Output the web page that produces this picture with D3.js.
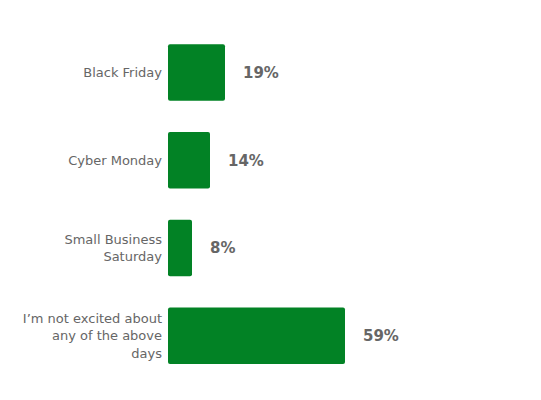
<!DOCTYPE html>
<html>
<head>
<meta charset="utf-8">
<script src="https://cdn.jsdelivr.net/npm/d3@7"></script>
<style>
  body { margin: 0; background: #fff; }
  svg text { font-family: "DejaVu Sans", Verdana, sans-serif; }
</style>
</head>
<body>
<div id="chart"></div>
<script>
// categories and values
const categories = [
  "Black Friday",
  "Cyber Monday",
  "Small Business Saturday",
  "I\u2019m not excited about any of the above days"
];
const values = [19, 14, 8, 59];

const width = 541, height = 400;
const barColor = "#028225";
const textColor = "#666666";

const svg = d3.select("#chart").append("svg")
  .attr("width", width)
  .attr("height", height);

const x = d3.scaleLinear()
  .domain([0, 100])
  .range([168, 468]);

const y = d3.scaleBand()
  .domain(categories)
  .range([28.7, 379.5])
  .paddingInner(0.356)
  .paddingOuter(0.178);

const data = categories.map((c, i) => ({ cat: c, val: values[i] }));

// bars
svg.append("g").selectAll("rect")
  .data(data)
  .enter().append("rect")
    .attr("x", x(0))
    .attr("y", d => y(d.cat))
    .attr("width", d => x(d.val) - x(0))
    .attr("height", y.bandwidth())
    .attr("rx", 2)
    .attr("fill", barColor);

// value labels
svg.append("g").selectAll("text")
  .data(data)
  .enter().append("text")
    .attr("x", d => x(d.val) + 18)
    .attr("y", d => y(d.cat) + y.bandwidth() / 2)
    .attr("dy", "0.36em")
    .attr("fill", textColor)
    .style("font-size", "15px")
    .style("font-weight", "bold")
    .text(d => d.val + "%");

// category labels, wrapped
const lineHeight = 17.5;
const maxWidth = 142;

const labels = svg.append("g").selectAll("text")
  .data(data)
  .enter().append("text")
    .attr("text-anchor", "end")
    .attr("fill", textColor)
    .style("font-size", "13px");

labels.each(function (d) {
  const t = d3.select(this);
  const words = d.cat.split(" ");
  let lines = [], line = [];
  const probe = t.append("tspan");
  words.forEach(w => {
    line.push(w);
    probe.text(line.join(" "));
    if (probe.node().getComputedTextLength() > maxWidth && line.length > 1) {
      line.pop();
      lines.push(line.join(" "));
      line = [w];
    }
  });
  lines.push(line.join(" "));
  probe.remove();

  const cy = y(d.cat) + y.bandwidth() / 2;
  const top = cy - (lines.length - 1) * lineHeight / 2;
  lines.forEach((l, i) => {
    t.append("tspan")
      .attr("x", x(0) - 6)
      .attr("y", top + i * lineHeight)
      .attr("dy", "0.36em")
      .text(l);
  });
});
</script>
</body>
</html>
